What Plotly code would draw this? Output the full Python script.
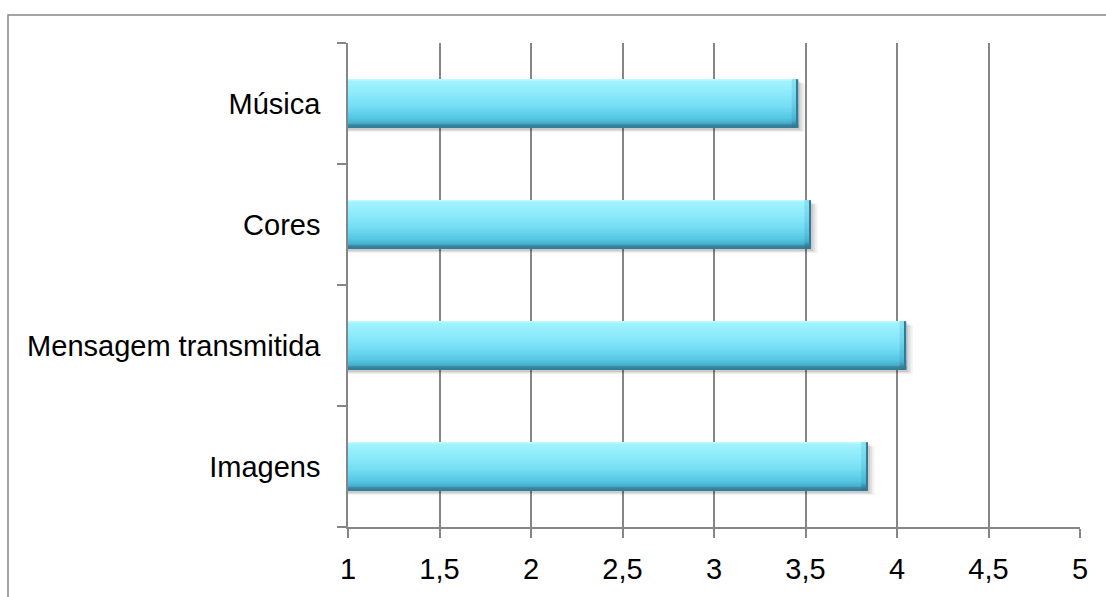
import plotly.graph_objects as go

# Survey scores (scale 1 to 5) for each element of the campaign
categories = ["Imagens", "Mensagem transmitida", "Cores", "Música"]
scores = [3.84, 4.05, 3.53, 3.46]

x_ticks = [1, 1.5, 2, 2.5, 3, 3.5, 4, 4.5, 5]

FONT = "Liberation Sans, Arial, sans-serif"
GRID = "#868686"

BAR_W = 0.4  # bar thickness in category units (gap width 150%)

# vertical colour ramp of the bar face, top -> bottom
ramp = [
    (0.00, (200, 251, 255)),
    (0.06, (160, 243, 254)),
    (0.30, (140, 234, 251)),
    (0.55, (118, 222, 245)),
    (0.80, (86, 199, 227)),
    (0.90, (74, 180, 210)),
    (0.94, (58, 140, 166)),
    (1.00, (52, 122, 148)),
]


def ramp_color(t, darken=0.0):
    for (t0, c0), (t1, c1) in zip(ramp[:-1], ramp[1:]):
        if t0 <= t <= t1:
            f = 0 if t1 == t0 else (t - t0) / (t1 - t0)
            c = [round((a + (b - a) * f) * (1 - darken)) for a, b in zip(c0, c1)]
            return f"rgb({c[0]},{c[1]},{c[2]})"
    c = [round(v * (1 - darken)) for v in ramp[-1][1]]
    return f"rgb({c[0]},{c[1]},{c[2]})"


fig = go.Figure()

# soft drop shadow under each bar
for k, alpha in enumerate([0.05, 0.07, 0.09]):
    fig.add_trace(go.Bar(
        y=categories, x=[s + 0.012 * (3 - k) for s in scores], orientation="h",
        width=BAR_W, offset=-BAR_W / 2 - 0.035 + 0.008 * k,
        marker=dict(color=f"rgba(0,0,0,{alpha})", line=dict(width=0)),
        hoverinfo="skip", showlegend=False,
    ))

# bar face built from thin horizontal bands
n_bands = 40
band = BAR_W / n_bands
for i in range(n_bands):
    t = (i + 0.5) / n_bands
    fig.add_trace(go.Bar(
        y=categories, x=scores, orientation="h",
        width=band * 1.02, offset=BAR_W / 2 - (i + 1) * band,
        marker=dict(color=ramp_color(t), line=dict(width=0)),
        hoverinfo="skip", showlegend=False,
    ))

# slightly darker bevel at the right end of each bar
end_len = 0.035
for i in range(n_bands):
    t = (i + 0.5) / n_bands
    fig.add_trace(go.Bar(
        y=categories, x=[end_len] * len(scores), base=[s - end_len for s in scores],
        orientation="h",
        width=band * 1.02, offset=BAR_W / 2 - (i + 1) * band,
        marker=dict(color=ramp_color(min(1.0, 0.25 + 0.75 * t), darken=0.04),
                    line=dict(width=0)),
        hoverinfo="skip", showlegend=False,
    ))

# thin dark edge on the right side
fig.add_trace(go.Bar(
    y=categories, x=[0.007] * len(scores), base=[s - 0.007 for s in scores],
    orientation="h", width=BAR_W, offset=-BAR_W / 2,
    marker=dict(color="rgb(52,122,148)", line=dict(width=0)),
    hoverinfo="skip", showlegend=False,
))

fig.update_layout(
    width=1106, height=597,
    margin=dict(l=348, r=26, t=43, b=61),
    paper_bgcolor="white", plot_bgcolor="white",
    barmode="overlay",
    separators=", ",
    font=dict(family=FONT, size=29, color="black"),
    showlegend=False,
    xaxis=dict(
        range=[1, 5], tickvals=x_ticks,
        showgrid=True, gridcolor=GRID, gridwidth=1.5,
        showline=True, linecolor=GRID, linewidth=1.5,
        ticks="outside", ticklen=9, tickcolor=GRID, tickwidth=1.5,
        zeroline=False, fixedrange=True,
        ticklabelstandoff=6,
    ),
    yaxis=dict(
        type="category", categoryorder="array", categoryarray=categories,
        range=[-0.5, 3.5],
        showgrid=False, showline=True, linecolor=GRID, linewidth=1.5,
        ticks="outside", tickson="boundaries", ticklen=9,
        tickcolor=GRID, tickwidth=1.5,
        ticklabelstandoff=20, fixedrange=True,
    ),
    shapes=[dict(
        type="rect", xref="paper", yref="paper",
        x0=(8 - 348) / 732, x1=(1112 - 348) / 732,
        y0=(536 - 610) / 493, y1=1 + (43 - 14.5) / 493,
        line=dict(color=GRID, width=1.5), fillcolor="rgba(0,0,0,0)",
        layer="below",
    )],
)

fig.write_html("out.html")
